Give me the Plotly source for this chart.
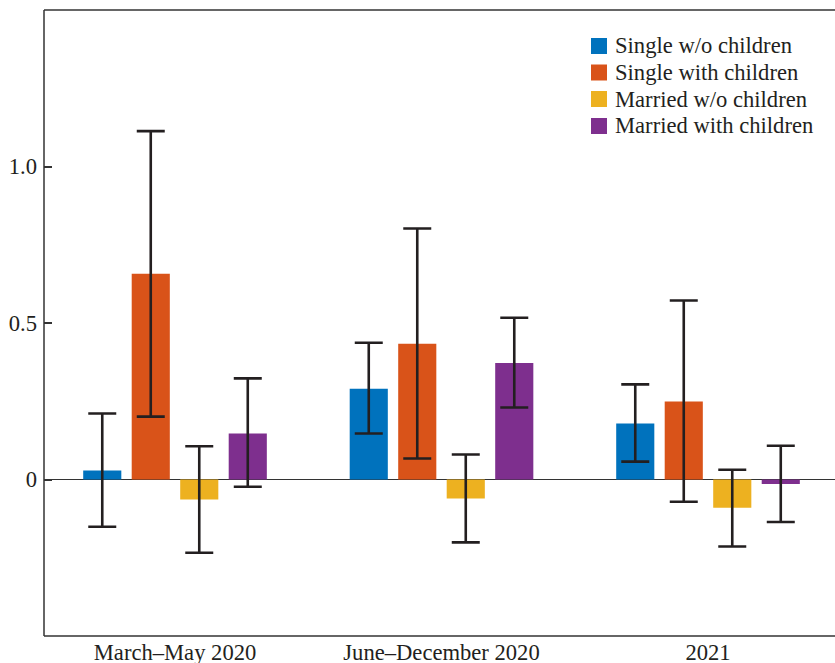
import plotly.graph_objects as go

# Periods on the x axis
periods = ["March–May 2020", "June–December 2020", "2021"]

# Household groups
groups = ["Single w/o children", "Single with children",
          "Married w/o children", "Married with children"]
colors = ["#0072BD", "#D95319", "#EDB120", "#7E2F8E"]

# Point estimates per group (one value per period)
single_no_kids = [0.029, 0.290, 0.179]
single_kids = [0.657, 0.434, 0.249]
married_no_kids = [-0.064, -0.061, -0.090]
married_kids = [0.147, 0.372, -0.014]

# Confidence interval bounds
single_no_kids_hi = [0.211, 0.437, 0.304]
single_no_kids_lo = [-0.151, 0.147, 0.057]
single_kids_hi = [1.113, 0.802, 0.572]
single_kids_lo = [0.201, 0.067, -0.071]
married_no_kids_hi = [0.106, 0.080, 0.031]
married_no_kids_lo = [-0.234, -0.201, -0.214]
married_kids_hi = [0.323, 0.517, 0.108]
married_kids_lo = [-0.023, 0.230, -0.136]

# Y axis ticks
ytick_vals = [0, 0.5, 1.0]
ytick_text = ["0", "0.5", "1.0"]

series = [
    (single_no_kids, single_no_kids_hi, single_no_kids_lo),
    (single_kids, single_kids_hi, single_kids_lo),
    (married_no_kids, married_no_kids_hi, married_no_kids_lo),
    (married_kids, married_kids_hi, married_kids_lo),
]

W, H = 835, 663
ML, MR, MT, MB = 44, 0, 10, 27
FONT = "Liberation Serif, Times New Roman, serif"
FS = 22.6
INK = "#231f20"

fig = go.Figure()
for name, color, (vals, hi, lo) in zip(groups, colors, series):
    fig.add_trace(go.Bar(
        x=periods, y=vals, name=name,
        marker=dict(color=color, line=dict(width=0)),
        error_y=dict(
            type="data", symmetric=False,
            array=[h - v for h, v in zip(hi, vals)],
            arrayminus=[v - l for v, l in zip(vals, lo)],
            color=INK, thickness=2.6, width=14,
        ),
        showlegend=False,
    ))

plot_w = W - ML - MR
plot_h = H - MT - MB


def px_x(px):
    return (px - ML) / plot_w


def px_y(py):
    return (H - MB - py) / plot_h


shapes = [
    # frame: left, top, bottom (right side falls outside the canvas)
    dict(type="line", xref="paper", yref="paper", x0=0, x1=0, y0=0, y1=1,
         line=dict(color="#333333", width=1.5)),
    dict(type="line", xref="paper", yref="paper", x0=0, x1=1, y0=1, y1=1,
         line=dict(color="#333333", width=1.5)),
    dict(type="line", xref="paper", yref="paper", x0=0, x1=1, y0=0, y1=0,
         line=dict(color="#333333", width=1.5)),
]
annotations = []

# legend drawn as swatches with text
leg_rows = [46, 72.5, 99, 126]
for name, color, cy in zip(groups, colors, leg_rows):
    shapes.append(dict(
        type="rect", xref="paper", yref="paper",
        x0=px_x(591), x1=px_x(607), y0=px_y(cy + 8), y1=px_y(cy - 8),
        fillcolor=color, line=dict(width=0),
    ))
    annotations.append(dict(
        xref="paper", yref="paper", x=px_x(613), y=px_y(cy),
        text=name, showarrow=False, xanchor="left", yanchor="middle",
        font=dict(family=FONT, size=FS, color=INK),
    ))

fig.update_layout(
    width=W, height=H,
    margin=dict(l=ML, r=MR, t=MT, b=MB),
    paper_bgcolor="white", plot_bgcolor="white",
    barmode="group", bargap=0.272, bargroupgap=0.214,
    font=dict(family=FONT, size=FS, color=INK),
    shapes=shapes, annotations=annotations,
    xaxis=dict(
        range=[-0.4916, 2.4765], showgrid=False, zeroline=False,
        showline=False, ticks="", automargin=False,
        tickfont=dict(family=FONT, size=FS, color=INK),
    ),
    yaxis=dict(
        range=[-0.5, 1.5], showgrid=False, automargin=False,
        zeroline=True, zerolinecolor="#333333", zerolinewidth=1.2,
        showline=False, tickvals=ytick_vals, ticktext=ytick_text,
        ticks="inside", ticklen=8, tickcolor="#333333", tickwidth=1.5,
        ticklabelstandoff=6,
        tickfont=dict(family=FONT, size=FS, color=INK),
    ),
)

fig.write_html("out.html")
